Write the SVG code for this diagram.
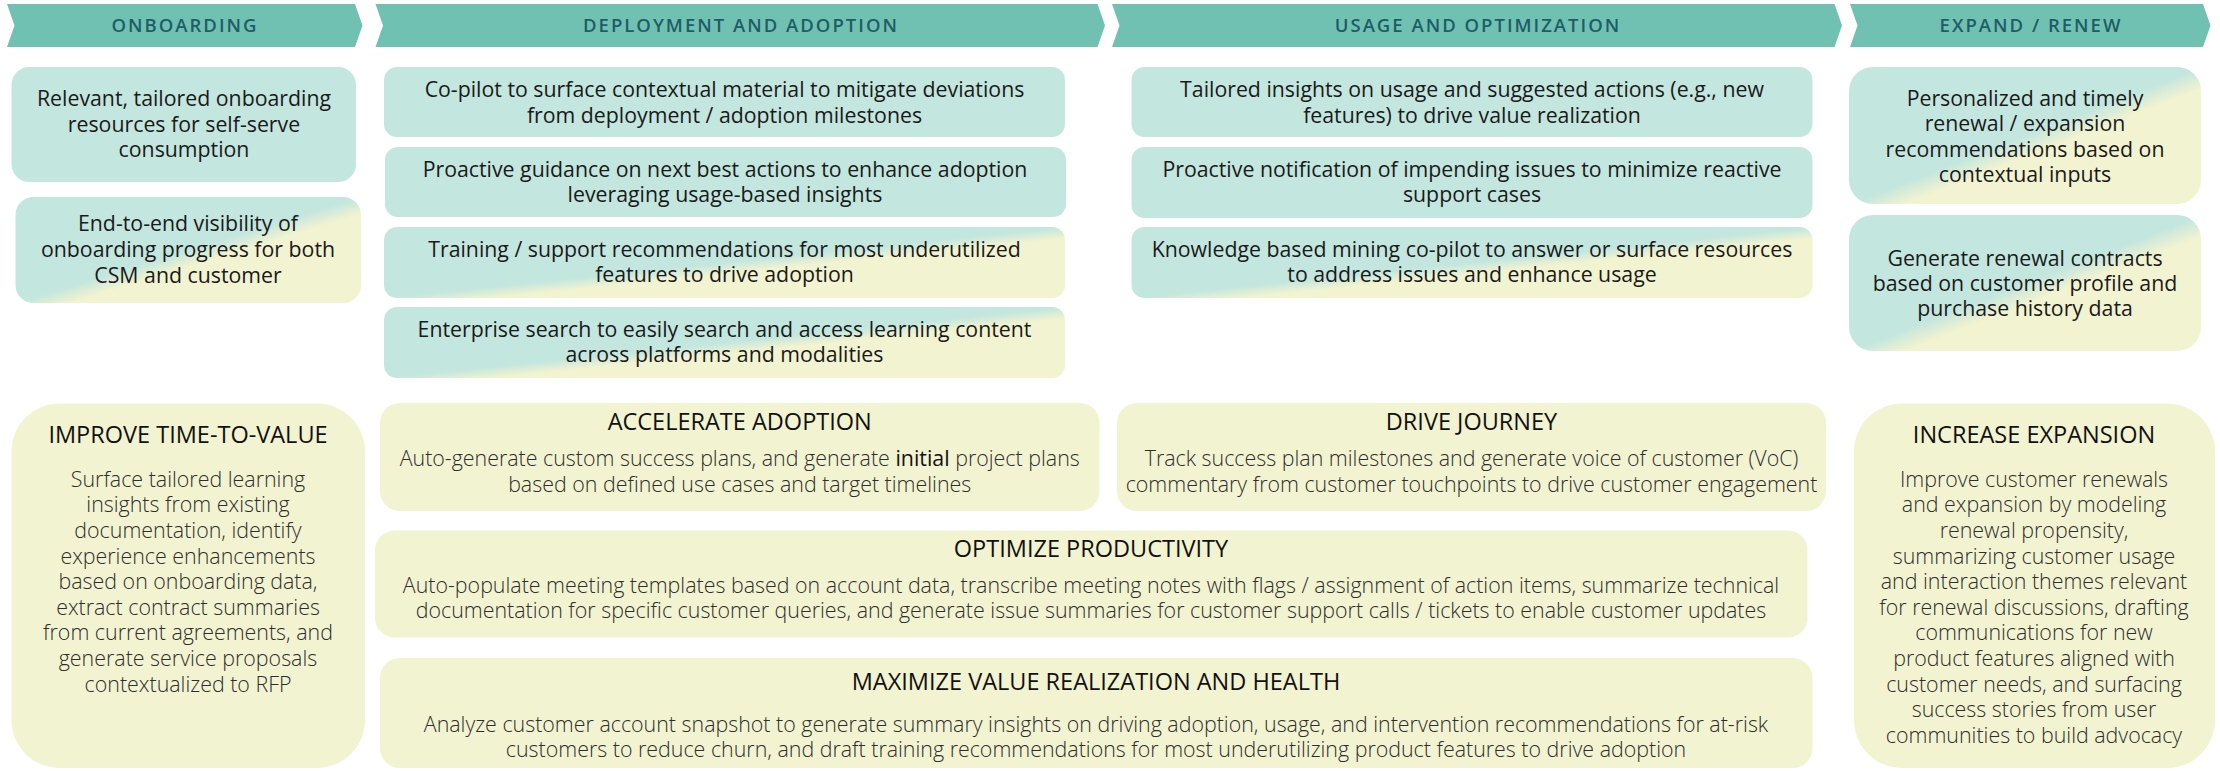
<svg xmlns="http://www.w3.org/2000/svg" width="2220" height="771" viewBox="0 0 2220 771">
<defs>
<linearGradient id="tg" x1="0" y1="0" x2="1" y2="1">
<stop offset="0" stop-color="#c3e6df"/>
<stop offset="0.5" stop-color="#c3e6df"/>
<stop offset="0.58" stop-color="#f2f3d0"/>
<stop offset="1" stop-color="#f2f3d0"/>
</linearGradient>
<style>
.banner{fill:#71c1b3}
.btxt{font-family:"Open Sans","Liberation Sans",sans-serif;font-weight:600;font-size:18.5px;letter-spacing:2px;fill:#1d5e65;text-anchor:middle}
.teal{fill:#c3e6df}
.grad{fill:url(#tg)}
.yel{fill:#f2f3d0}
.t{font-family:"Open Sans","Liberation Sans",sans-serif;font-size:21.3px;fill:#1a1a1a;text-anchor:middle}
.title{font-family:"Open Sans","Liberation Sans",sans-serif;font-size:23.5px;fill:#111;text-anchor:middle}
.body{font-family:"Open Sans","Liberation Sans",sans-serif;font-size:21.4px;font-weight:300;fill:#2e2e2e;text-anchor:middle}
.em{font-weight:500;fill:#111}
</style>
</defs>
<rect width="2220" height="771" fill="#ffffff"/>

<g id="banner-onboarding">
<path class="banner" d="M7,4 L355,4 L362.5,25.5 L355,47 L7,47 L14.5,25.5 Z"/>
<text class="btxt" x="185" y="32">ONBOARDING</text>
</g>
<g id="banner-deployment">
<path class="banner" d="M375.5,4 L1097.5,4 L1105,25.5 L1097.5,47 L375.5,47 L383,25.5 Z"/>
<text class="btxt" x="741" y="32">DEPLOYMENT AND ADOPTION</text>
</g>
<g id="banner-usage">
<path class="banner" d="M1112,4 L1834.5,4 L1842,25.5 L1834.5,47 L1112,47 L1119.5,25.5 Z"/>
<text class="btxt" x="1478" y="32">USAGE AND OPTIMIZATION</text>
</g>
<g id="banner-expand">
<path class="banner" d="M1850,4 L2203,4 L2210.5,25.5 L2203,47 L1850,47 L1857.5,25.5 Z"/>
<text class="btxt" x="2031" y="32">EXPAND / RENEW</text>
</g>

<g id="ob1">
<rect class="teal" x="11.5" y="67" width="344.5" height="115" rx="18"/>
<text class="t"><tspan x="184" y="106">Relevant, tailored onboarding</tspan><tspan x="184" y="131.5">resources for self-serve</tspan><tspan x="184" y="157">consumption</tspan></text>
</g>
<g id="ob2">
<rect class="grad" x="15.5" y="197" width="345.5" height="106" rx="18"/>
<text class="t"><tspan x="188" y="231">End-to-end visibility of</tspan><tspan x="188" y="256.7">onboarding progress for both</tspan><tspan x="188" y="282.5">CSM and customer</tspan></text>
</g>

<g id="da1">
<rect class="teal" x="384" y="67" width="681" height="70" rx="13"/>
<text class="t"><tspan x="724.5" y="96.7">Co-pilot to surface contextual material to mitigate deviations</tspan><tspan x="724.5" y="122.5">from deployment / adoption milestones</tspan></text>
</g>
<g id="da2">
<rect class="teal" x="385" y="147" width="681" height="70" rx="13"/>
<text class="t"><tspan x="725" y="176.7">Proactive guidance on next best actions to enhance adoption</tspan><tspan x="725" y="201.7">leveraging usage-based insights</tspan></text>
</g>
<g id="da3">
<rect class="grad" x="384" y="227" width="681" height="71" rx="13"/>
<text class="t"><tspan x="724.5" y="256.7">Training / support recommendations for most underutilized</tspan><tspan x="724.5" y="281.7">features to drive adoption</tspan></text>
</g>
<g id="da4">
<rect class="grad" x="384" y="307" width="681" height="71" rx="13"/>
<text class="t"><tspan x="724.5" y="336.7">Enterprise search to easily search and access learning content</tspan><tspan x="724.5" y="362.3">across platforms and modalities</tspan></text>
</g>

<g id="uo1">
<rect class="teal" x="1131.5" y="67" width="681" height="70" rx="13"/>
<text class="t"><tspan x="1472" y="96.7">Tailored insights on usage and suggested actions (e.g., new</tspan><tspan x="1472" y="122.5">features) to drive value realization</tspan></text>
</g>
<g id="uo2">
<rect class="teal" x="1131.5" y="147" width="681" height="71" rx="13"/>
<text class="t"><tspan x="1472" y="176.7">Proactive notification of impending issues to minimize reactive</tspan><tspan x="1472" y="202">support cases</tspan></text>
</g>
<g id="uo3">
<rect class="grad" x="1131.5" y="227" width="681" height="71" rx="13"/>
<text class="t"><tspan x="1472" y="256.7">Knowledge based mining co-pilot to answer or surface resources</tspan><tspan x="1472" y="282">to address issues and enhance usage</tspan></text>
</g>

<g id="er1">
<rect class="grad" x="1849" y="67" width="352" height="137" rx="24"/>
<text class="t"><tspan x="2025" y="106">Personalized and timely</tspan><tspan x="2025" y="131">renewal / expansion</tspan><tspan x="2025" y="156.7">recommendations based on</tspan><tspan x="2025" y="181.7">contextual inputs</tspan></text>
</g>
<g id="er2">
<rect class="grad" x="1849" y="215" width="352" height="136" rx="24"/>
<text class="t"><tspan x="2025" y="265.7">Generate renewal contracts</tspan><tspan x="2025" y="290.5">based on customer profile and</tspan><tspan x="2025" y="315.7">purchase history data</tspan></text>
</g>

<g id="improve-time-to-value">
<rect class="yel" x="11.5" y="403.5" width="353.5" height="364.5" rx="48"/>
<text class="title" x="188" y="443.3">IMPROVE TIME-TO-VALUE</text>
<text class="body"><tspan x="188" y="486.7">Surface tailored learning</tspan><tspan x="188" y="512.3">insights from existing</tspan><tspan x="188" y="537.9">documentation, identify</tspan><tspan x="188" y="563.5">experience enhancements</tspan><tspan x="188" y="589.1">based on onboarding data,</tspan><tspan x="188" y="614.7">extract contract summaries</tspan><tspan x="188" y="640.3">from current agreements, and</tspan><tspan x="188" y="665.9">generate service proposals</tspan><tspan x="188" y="691.5">contextualized to RFP</tspan></text>
</g>

<g id="accelerate-adoption">
<rect class="yel" x="380" y="403" width="719.5" height="108" rx="20"/>
<text class="title" x="739.7" y="430">ACCELERATE ADOPTION</text>
<text class="body"><tspan x="739.7" y="466">Auto-generate custom success plans, and generate <tspan class="em">initial</tspan> project plans</tspan><tspan x="739.7" y="491.7">based on defined use cases and target timelines</tspan></text>
</g>

<g id="drive-journey">
<rect class="yel" x="1117" y="403" width="709" height="108" rx="20"/>
<text class="title" x="1471.5" y="430">DRIVE JOURNEY</text>
<text class="body"><tspan x="1471.5" y="466">Track success plan milestones and generate voice of customer (VoC)</tspan><tspan x="1471.5" y="491.7">commentary from customer touchpoints to drive customer engagement</tspan></text>
</g>

<g id="optimize-productivity">
<rect class="yel" x="375" y="530.5" width="1432.5" height="107" rx="20"/>
<text class="title" x="1091" y="556.7">OPTIMIZE PRODUCTIVITY</text>
<text class="body"><tspan x="1091" y="592.7">Auto-populate meeting templates based on account data, transcribe meeting notes with flags / assignment of action items, summarize technical</tspan><tspan x="1091" y="618.3">documentation for specific customer queries, and generate issue summaries for customer support calls / tickets to enable customer updates</tspan></text>
</g>

<g id="maximize-value">
<rect class="yel" x="380" y="658" width="1432.5" height="110" rx="20"/>
<text class="title" x="1096" y="690">MAXIMIZE VALUE REALIZATION AND HEALTH</text>
<text class="body"><tspan x="1096" y="732.3">Analyze customer account snapshot to generate summary insights on driving adoption, usage, and intervention recommendations for at-risk</tspan><tspan x="1096" y="756.7">customers to reduce churn, and draft training recommendations for most underutilizing product features to drive adoption</tspan></text>
</g>

<g id="increase-expansion">
<rect class="yel" x="1854" y="403.5" width="361" height="364.5" rx="48"/>
<text class="title" x="2034" y="443.3">INCREASE EXPANSION</text>
<text class="body"><tspan x="2034" y="486.7">Improve customer renewals</tspan><tspan x="2034" y="512.3">and expansion by modeling</tspan><tspan x="2034" y="537.9">renewal propensity,</tspan><tspan x="2034" y="563.5">summarizing customer usage</tspan><tspan x="2034" y="589.1">and interaction themes relevant</tspan><tspan x="2034" y="614.7">for renewal discussions, drafting</tspan><tspan x="2034" y="640.3">communications for new</tspan><tspan x="2034" y="665.9">product features aligned with</tspan><tspan x="2034" y="691.5">customer needs, and surfacing</tspan><tspan x="2034" y="717.1">success stories from user</tspan><tspan x="2034" y="742.7">communities to build advocacy</tspan></text>
</g>

<g id="connectors"></g>
</svg>
